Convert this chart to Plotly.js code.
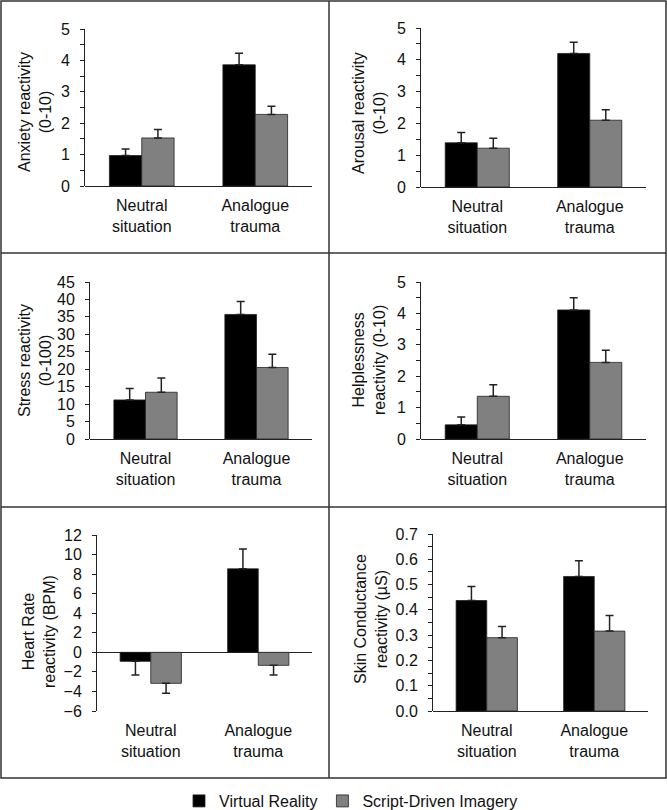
<!DOCTYPE html>
<html>
<head>
<meta charset="utf-8">
<script src="https://cdn.plot.ly/plotly-3.0.1.min.js"></script>
<style>
  body { margin: 0; padding: 0; background: #fff; }
  #plot { width: 667px; height: 810px; }
</style>
</head>
<body>
<div id="plot"></div>
<script>
// Categories (x tick labels)
let categories = ['Neutral<br>situation', 'Analogue<br>trauma'];
let seriesNames = ['Virtual Reality', 'Script-Driven Imagery'];

// Anxiety reactivity (0-10)
let anxietyVR = [0.97, 3.86];
let anxietyVRErr = [0.21, 0.37];
let anxietySDI = [1.53, 2.28];
let anxietySDIErr = [0.27, 0.26];

// Arousal reactivity (0-10)
let arousalVR = [1.39, 4.20];
let arousalVRErr = [0.32, 0.35];
let arousalSDI = [1.22, 2.10];
let arousalSDIErr = [0.31, 0.33];

// Stress reactivity (0-100)
let stressVR = [11.2, 35.7];
let stressVRErr = [3.3, 3.7];
let stressSDI = [13.4, 20.5];
let stressSDIErr = [4.1, 3.8];

// Helplessness reactivity (0-10)
let helplessVR = [0.45, 4.11];
let helplessVRErr = [0.25, 0.39];
let helplessSDI = [1.36, 2.44];
let helplessSDIErr = [0.37, 0.39];

// Heart rate reactivity (BPM)
let heartVR = [-0.92, 8.54];
let heartVRErr = [1.40, 2.03];
let heartSDI = [-3.17, -1.33];
let heartSDIErr = [1.02, 0.99];

// Skin conductance reactivity (µS)
let skinVR = [0.437, 0.532];
let skinVRErr = [0.055, 0.062];
let skinSDI = [0.290, 0.316];
let skinSDIErr = [0.044, 0.062];

// page size in pixels, used to turn pixel positions into paper fractions
const W = 667, H = 810;
function fx(px) { return px / W; }
function fy(py) { return 1 - py / H; }

const FONT = 'Arial, "Liberation Sans", sans-serif';
const barColors = ['#000000', '#808080'];

// one panel = [VR values, VR err, SDI values, SDI err, title, y axis settings, pixel box, title centre]
let panels = [
    [anxietyVR, anxietyVRErr, anxietySDI, anxietySDIErr, 'Anxiety reactivity<br>(0-10)',
        {range: [0, 5], dtick: 1, minor: 0.5}, [85, 312, 29, 186], [35, 112]],
    [arousalVR, arousalVRErr, arousalSDI, arousalSDIErr, 'Arousal reactivity<br>(0-10)',
        {range: [0, 5], dtick: 1, minor: 0.5}, [421, 646, 28, 187], [369, 113]],
    [stressVR, stressVRErr, stressSDI, stressSDIErr, 'Stress reactivity<br>(0-100)',
        {range: [0, 45], dtick: 5}, [90, 312, 282, 439], [35, 361]],
    [helplessVR, helplessVRErr, helplessSDI, helplessSDIErr, 'Helplessness<br>reactivity (0-10)',
        {range: [0, 5], dtick: 1, minor: 0.5}, [421, 646, 282, 439], [369, 360]],
    [heartVR, heartVRErr, heartSDI, heartSDIErr, 'Heart Rate<br>reactivity (BPM)',
        {range: [-6, 12], dtick: 2}, [97, 312, 535, 711], [39, 632]],
    [skinVR, skinVRErr, skinSDI, skinSDIErr, 'Skin Conductance<br>reactivity (µS)',
        {range: [0, 0.7], dtick: 0.1, minor: 0.05, format: '.1f'}, [433, 648, 534, 711], [371, 619]]
];

// error bars go away from zero, in the direction of the bar
function errBar(vals, errs) {
    return {
        type: 'data',
        symmetric: false,
        array: vals.map((v, i) => v >= 0 ? errs[i] : 0),
        arrayminus: vals.map((v, i) => v < 0 ? errs[i] : 0),
        color: '#222',
        thickness: 1.5,
        width: 4
    };
}

let data = [];
let layout = {
    width: W,
    height: H,
    margin: {l: 0, r: 0, t: 0, b: 0, autoexpand: false},
    paper_bgcolor: '#fff',
    plot_bgcolor: 'rgba(0,0,0,0)',
    font: {family: FONT, size: 16, color: '#111'},
    barmode: 'group',
    bargap: 0.43,
    bargroupgap: 0,
    showlegend: true,
    legend: {
        orientation: 'h',
        x: fx(351), xanchor: 'center',
        y: fy(801), yanchor: 'middle',
        bgcolor: 'rgba(0,0,0,0)',
        font: {family: FONT, size: 16, color: '#111'},
        traceorder: 'normal'
    },
    annotations: [],
    shapes: []
};

panels.forEach(function (p, k) {
    let n = k + 1;
    let xa = 'x' + (n === 1 ? '' : n);
    let ya = 'y' + (n === 1 ? '' : n);
    let series = [[p[0], p[1]], [p[2], p[3]]];
    series.forEach(function (s, j) {
        data.push({
            type: 'bar',
            x: categories,
            y: s[0],
            name: seriesNames[j],
            legendgroup: seriesNames[j],
            showlegend: k === 0,
            marker: {color: barColors[j], line: {color: '#222', width: 0.8}},
            error_y: errBar(s[0], s[1]),
            xaxis: xa,
            yaxis: ya
        });
    });

    let ax = p[5], box = p[6];
    layout['xaxis' + (n === 1 ? '' : n)] = {
        domain: [fx(box[0]), fx(box[1])],
        anchor: ya,
        type: 'category',
        showline: false,
        showgrid: false,
        zeroline: false,
        ticks: '',
        ticklabelstandoff: 8,
        tickfont: {family: FONT, size: 16, color: '#111'}
    };
    let yaxis = {
        domain: [fy(box[3]), fy(box[2])],
        anchor: xa,
        range: ax.range,
        dtick: ax.dtick,
        tick0: 0,
        showline: true,
        linecolor: '#222',
        linewidth: 1,
        showgrid: false,
        zeroline: true,
        zerolinecolor: '#222',
        zerolinewidth: 1,
        ticks: 'outside',
        ticklen: 4,
        tickcolor: '#222',
        ticklabelstandoff: 7,
        tickfont: {family: FONT, size: 16, color: '#111'}
    };
    if (ax.format) yaxis.tickformat = ax.format;
    if (ax.minor) yaxis.minor = {dtick: ax.minor, ticks: 'outside', ticklen: 4, tickcolor: '#222', showgrid: false};
    layout['yaxis' + (n === 1 ? '' : n)] = yaxis;

    // twin axis that only draws the inner half of the ticks, so they cross the axis line
    let twin = {
        overlaying: ya,
        anchor: xa,
        side: 'left',
        range: ax.range,
        dtick: ax.dtick,
        tick0: 0,
        showline: false,
        showgrid: false,
        zeroline: false,
        showticklabels: false,
        ticks: 'inside',
        ticklen: 4,
        tickcolor: '#222'
    };
    if (ax.minor) twin.minor = {dtick: ax.minor, ticks: 'inside', ticklen: 4, tickcolor: '#222', showgrid: false};
    layout['yaxis' + (n + 6)] = twin;

    layout.annotations.push({
        xref: 'paper', yref: 'paper',
        x: fx(p[7][0]), y: fy(p[7][1]),
        xanchor: 'center', yanchor: 'middle',
        text: p[4],
        textangle: -90,
        showarrow: false,
        font: {family: FONT, size: 16, color: '#111'}
    });
});

// frame round the six panels
let lineStyle = {color: '#333', width: 1.5};
layout.shapes.push({type: 'rect', xref: 'paper', yref: 'paper',
    x0: fx(1), x1: fx(666), y0: fy(778), y1: fy(1), line: lineStyle});
layout.shapes.push({type: 'line', xref: 'paper', yref: 'paper',
    x0: fx(329), x1: fx(329), y0: fy(778), y1: fy(1), line: lineStyle});
layout.shapes.push({type: 'line', xref: 'paper', yref: 'paper',
    x0: fx(1), x1: fx(666), y0: fy(253), y1: fy(253), line: lineStyle});
layout.shapes.push({type: 'line', xref: 'paper', yref: 'paper',
    x0: fx(1), x1: fx(666), y0: fy(507), y1: fy(507), line: lineStyle});

Plotly.newPlot('plot', data, layout, {displayModeBar: false});
</script>
</body>
</html>
